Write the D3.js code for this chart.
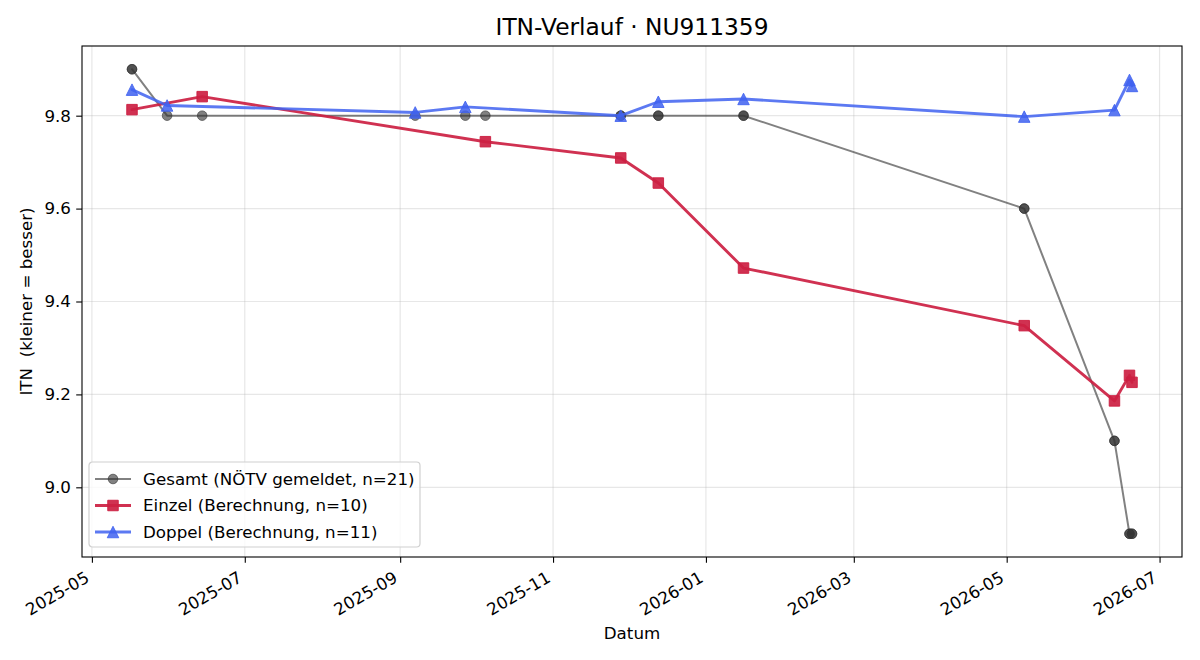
<!DOCTYPE html>
<html>
<head>
<meta charset="utf-8">
<script src="https://cdn.jsdelivr.net/npm/d3@7"></script>
<style>
  html, body { margin: 0; padding: 0; background: #fff; }
  svg { display: block; font-family: "DejaVu Sans", sans-serif; }
</style>
</head>
<body>
<div id="chart"></div>
<script>
// --- data ---
const gesamtDates = ["2025-05-17","2025-05-17","2025-05-31","2025-06-14","2025-09-07","2025-09-27","2025-10-05",
  "2025-11-28","2025-11-28","2025-12-13","2025-12-13","2026-01-16","2026-01-16","2026-05-08","2026-05-08",
  "2026-06-13","2026-06-13","2026-06-19","2026-06-19","2026-06-20","2026-06-20"];
const gesamtValues = [9.9,9.9,9.8,9.8,9.8,9.8,9.8,9.8,9.8,9.8,9.8,9.8,9.8,9.6,9.6,9.1,9.1,8.9,8.9,8.9,8.9];

const einzelDates = ["2025-05-17","2025-06-14","2025-10-05","2025-11-28","2025-12-13","2026-01-16",
  "2026-05-08","2026-06-13","2026-06-19","2026-06-20"];
const einzelValues = [9.813,9.841,9.744,9.709,9.655,9.472,9.348,9.186,9.241,9.226];

const doppelDates = ["2025-05-17","2025-05-31","2025-09-07","2025-09-27","2025-11-28","2025-12-13",
  "2026-01-16","2026-05-08","2026-06-13","2026-06-19","2026-06-20"];
const doppelValues = [9.856,9.822,9.807,9.819,9.800,9.830,9.836,9.798,9.812,9.877,9.864];

const yTicks = [9.0, 9.2, 9.4, 9.6, 9.8];

const title = "ITN-Verlauf \u00b7 NU911359";
const xLabel = "Datum";
const yLabel = "ITN  (kleiner = besser)";

/**
 * Layout.
 */
const width = 1200, height = 660;
const margin = { top: 46, right: 18, bottom: 103, left: 82 };
const plotW = width - margin.left - margin.right;
const plotH = height - margin.top - margin.bottom;
const fontSize = 16.7;
const tickLen = 5.8;

const parse = d3.timeParse("%Y-%m-%d");
const zip = (dates, values) => dates.map((d, i) => ({ date: parse(d), value: values[i] }));

const series = [
  { name: "Gesamt (N\u00d6TV gemeldet, n=21)", data: zip(gesamtDates, gesamtValues),
    color: "#333333", opacity: 0.62, lineWidth: 2, marker: "circle", size: 4.8 },
  { name: "Einzel (Berechnung, n=10)", data: zip(einzelDates, einzelValues),
    color: "#cc1f42", opacity: 0.92, lineWidth: 2.9, marker: "square", size: 10.5 },
  { name: "Doppel (Berechnung, n=11)", data: zip(doppelDates, doppelValues),
    color: "#3f62f0", opacity: 0.85, lineWidth: 2.9, marker: "triangle", size: 11.5 }
];

// matplotlib-like 5% margins around the data
const allPoints = series.flatMap(s => s.data);
const [tMin, tMax] = d3.extent(allPoints, d => d.date);
const tPad = (tMax - tMin) * 0.05;
const [vMin, vMax] = d3.extent(allPoints, d => d.value);
const vPad = (vMax - vMin) * 0.05;

const x = d3.scaleTime()
  .domain([new Date(+tMin - tPad), new Date(+tMax + tPad)])
  .range([0, plotW]);
const y = d3.scaleLinear()
  .domain([vMin - vPad, vMax + vPad])
  .range([plotH, 0]);

const xTicks = x.ticks(d3.timeMonth.every(2));

const svg = d3.select("#chart").append("svg")
  .attr("width", width)
  .attr("height", height);

const g = svg.append("g").attr("transform", `translate(${margin.left},${margin.top})`);

// grid
g.append("g").attr("class", "grid-x")
  .selectAll("line").data(xTicks).enter().append("line")
    .attr("x1", d => x(d)).attr("x2", d => x(d))
    .attr("y1", 0).attr("y2", plotH)
    .style("stroke", "#b0b0b0").style("stroke-opacity", 0.3).style("stroke-width", 1.2);
g.append("g").attr("class", "grid-y")
  .selectAll("line").data(yTicks).enter().append("line")
    .attr("x1", 0).attr("x2", plotW)
    .attr("y1", d => y(d)).attr("y2", d => y(d))
    .style("stroke", "#b0b0b0").style("stroke-opacity", 0.3).style("stroke-width", 1.2);

// series
svg.append("defs").append("clipPath").attr("id", "plotclip")
  .append("rect").attr("width", plotW).attr("height", plotH);

const line = d3.line().x(d => x(d.date)).y(d => y(d.value));

const symbolPath = (marker, size) => {
  if (marker === "square") { const h = size / 2; return `M${-h},${-h}H${h}V${h}H${-h}Z`; }
  if (marker === "triangle") { const h = size / 2; return `M0,${-h}L${h},${h}L${-h},${h}Z`; }
  return d3.arc()({ innerRadius: 0, outerRadius: size, startAngle: 0, endAngle: 2 * Math.PI });
};

const plot = g.append("g").attr("clip-path", "url(#plotclip)");
series.forEach(s => {
  plot.append("path")
    .datum(s.data)
    .attr("d", line)
    .style("fill", "none")
    .style("stroke", s.color)
    .style("stroke-opacity", s.opacity)
    .style("stroke-width", s.lineWidth)
    .style("stroke-linejoin", "round")
    .style("stroke-linecap", "round");
  plot.append("g")
    .selectAll("path").data(s.data).enter().append("path")
      .attr("d", symbolPath(s.marker, s.size))
      .attr("transform", d => `translate(${x(d.date)},${y(d.value)})`)
      .style("fill", s.color)
      .style("fill-opacity", s.opacity)
      .style("stroke", s.color)
      .style("stroke-opacity", s.opacity)
      .style("stroke-width", 1);
});

// frame
g.append("rect")
  .attr("width", plotW).attr("height", plotH)
  .style("fill", "none").style("stroke", "#000").style("stroke-width", 1.1);

// x axis: labels rotated 30deg, right edge of the rotated box on the tick
const xAxis = g.append("g")
  .attr("transform", `translate(0,${plotH})`)
  .call(d3.axisBottom(x).tickValues(xTicks).tickFormat(d3.timeFormat("%Y-%m")).tickSizeOuter(0).tickSize(tickLen));
xAxis.select(".domain").remove();
xAxis.selectAll("line").style("stroke-width", 1.1);
const emH = fontSize * 1.164;
xAxis.selectAll("text")
  .style("font-family", "DejaVu Sans").style("font-size", fontSize + "px").style("fill", "#000")
  .attr("text-anchor", "end")
  .attr("dy", null)
  .attr("x", 0)
  .attr("y", -fontSize * 0.236)
  .attr("transform", `translate(0,${tickLen + 4.8 + emH * 0.866}) rotate(-30)`);

// y axis
const yAxis = g.append("g")
  .call(d3.axisLeft(y).tickValues(yTicks).tickFormat(d3.format(".1f")).tickSizeOuter(0).tickSize(tickLen));
yAxis.select(".domain").remove();
yAxis.selectAll("line").style("stroke-width", 1.1);
yAxis.selectAll("text")
  .style("font-family", "DejaVu Sans").style("font-size", fontSize + "px").style("fill", "#000")
  .attr("x", -11);

// labels
svg.append("text")
  .attr("x", margin.left + plotW / 2).attr("y", 35)
  .attr("text-anchor", "middle")
  .style("font-size", "23.3px")
  .text(title);
svg.append("text")
  .attr("x", margin.left + plotW / 2).attr("y", 639)
  .attr("text-anchor", "middle")
  .style("font-size", fontSize + "px")
  .text(xLabel);
svg.append("text")
  .attr("transform", `translate(32,${margin.top + plotH / 2}) rotate(-90)`)
  .attr("text-anchor", "middle")
  .style("font-size", fontSize + "px")
  .style("white-space", "pre")
  .text(yLabel);

// legend
const legend = svg.append("g").attr("transform", "translate(89,462)");
legend.append("rect")
  .attr("width", 331).attr("height", 85).attr("rx", 3.5)
  .style("fill", "#fff").style("fill-opacity", 0.8)
  .style("stroke", "#d0d0d0").style("stroke-width", 1.2);
series.forEach((s, i) => {
  const row = legend.append("g").attr("transform", `translate(0,${17 + i * 26.5})`);
  row.append("line")
    .attr("x1", 6).attr("x2", 42).attr("y1", 0).attr("y2", 0)
    .style("stroke", s.color).style("stroke-opacity", s.opacity).style("stroke-width", s.lineWidth);
  row.append("path")
    .attr("d", symbolPath(s.marker, s.size))
    .attr("transform", "translate(24,0)")
    .style("fill", s.color).style("fill-opacity", s.opacity)
    .style("stroke", s.color).style("stroke-opacity", s.opacity);
  row.append("text")
    .attr("x", 54).attr("y", 0).attr("dy", "0.35em")
    .style("font-size", fontSize + "px")
    .text(s.name);
});
</script>
</body>
</html>
